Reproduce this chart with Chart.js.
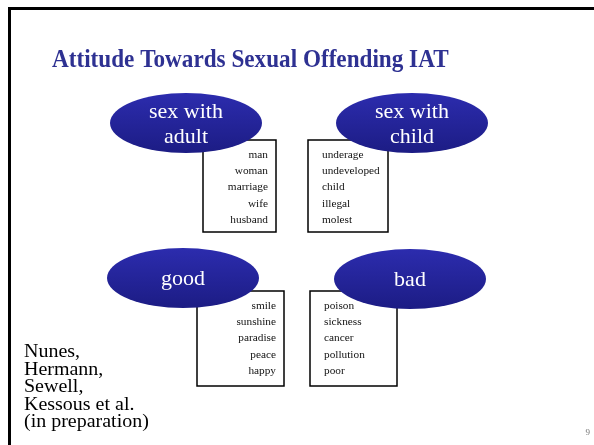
<!DOCTYPE html>
<html>
<head>
<meta charset="utf-8">
<script src="https://cdn.jsdelivr.net/npm/chart.js@4.4.1/dist/chart.umd.min.js"></script>
<style>
    html, body { margin: 0; padding: 0; background: #ffffff; }
</style>
</head>
<body>
<canvas id="iatChart" width="594" height="445"></canvas>
<script>
// Slide content
const titleText = 'Attitude Towards Sexual Offending IAT';
const categories = [['sex with', 'adult'], ['sex with', 'child'], ['good'], ['bad']];
const adultWords = ['man', 'woman', 'marriage', 'wife', 'husband'];
const childWords = ['underage', 'undeveloped', 'child', 'illegal', 'molest'];
const goodWords = ['smile', 'sunshine', 'paradise', 'peace', 'happy'];
const badWords = ['poison', 'sickness', 'cancer', 'pollution', 'poor'];
const citation = ['Nunes,', 'Hermann,', 'Sewell,', 'Kessous et al.', '(in preparation)'];
const pageNumber = '9';

// Layout, in slide units (scales map 0..594 / 0..445)
const nodeCenters = [{ x: 186, y: 123 }, { x: 412, y: 123 }, { x: 183, y: 278 }, { x: 410, y: 279 }];
const wordBoxes = [
    { x0: 203, y0: 140, x1: 276, y1: 232, align: 'right', words: adultWords },
    { x0: 308, y0: 140, x1: 388, y1: 232, align: 'left', words: childWords },
    { x0: 197, y0: 291, x1: 284, y1: 386, align: 'right', words: goodWords },
    { x0: 310, y0: 291, x1: 397, y1: 386, align: 'left', words: badWords }
];

const serif = '"Liberation Serif", "Times New Roman", serif';

// draws text squeezed/stretched horizontally from its left edge
function drawScaledText(ctx, text, x, y, sx) {
    ctx.save();
    ctx.translate(x, y);
    ctx.scale(sx, 1);
    ctx.fillText(text, 0, 0);
    ctx.restore();
}

const slidePlugin = {
    id: 'slide',
    afterDatasetsDraw(chart) {
        const ctx = chart.ctx;
        const xs = chart.scales.x;
        const ys = chart.scales.y;
        const px = v => xs.getPixelForValue(v);
        const py = v => ys.getPixelForValue(v);
        const meta = chart.getDatasetMeta(0);

        ctx.save();

        // slide frame (top + left edge)
        ctx.fillStyle = '#000000';
        ctx.fillRect(px(8), py(7), px(594) - px(8), 3);
        ctx.fillRect(px(8), py(7), 3, py(445) - py(7));

        // title
        ctx.fillStyle = '#2e3192';
        ctx.font = 'bold 25px ' + serif;
        ctx.textAlign = 'left';
        ctx.textBaseline = 'alphabetic';
        drawScaledText(ctx, titleText, px(52), py(67), 0.927);

        // word boxes (behind ellipses)
        ctx.font = '11.3px ' + serif;
        wordBoxes.forEach(b => {
            ctx.fillStyle = '#ffffff';
            ctx.fillRect(px(b.x0), py(b.y0), px(b.x1) - px(b.x0), py(b.y1) - py(b.y0));
            ctx.strokeStyle = '#000000';
            ctx.lineWidth = 1.5;
            ctx.strokeRect(px(b.x0), py(b.y0), px(b.x1) - px(b.x0), py(b.y1) - py(b.y0));
            ctx.fillStyle = '#111111';
            ctx.textAlign = b.align;
            const tx = b.align === 'right' ? px(b.x1 - 8) : px(b.x0 + 14);
            b.words.forEach((w, i) => {
                ctx.fillText(w, tx, py(b.y0 + 17.5 + i * 16.4));
            });
        });

        // category ellipses
        meta.data.forEach((pt, i) => {
            const cx = pt.x, cy = pt.y;
            const rx = 76, ry = 30;
            const grad = ctx.createLinearGradient(0, cy - ry, 0, cy + ry);
            grad.addColorStop(0, '#2c2cae');
            grad.addColorStop(1, '#1c1c84');
            ctx.beginPath();
            ctx.ellipse(cx, cy, rx, ry, 0, 0, Math.PI * 2);
            ctx.fillStyle = grad;
            ctx.fill();

            ctx.fillStyle = '#ffffff';
            ctx.font = '22px ' + serif;
            ctx.textAlign = 'center';
            const lines = categories[i];
            if (lines.length === 2) {
                ctx.fillText(lines[0], cx, cy - 5);
                ctx.fillText(lines[1], cx, cy + 20);
            } else {
                ctx.fillText(lines[0], cx, cy + 7);
            }
        });

        // citation
        ctx.fillStyle = '#000000';
        ctx.font = '18px ' + serif;
        ctx.textAlign = 'left';
        citation.forEach((line, i) => {
            drawScaledText(ctx, line, px(24), py(357 + i * 17.5), 1.11);
        });

        // page number
        ctx.fillStyle = '#777777';
        ctx.font = '9px ' + serif;
        ctx.textAlign = 'right';
        ctx.fillText(pageNumber, px(590), py(435));

        ctx.restore();
    }
};

new Chart(document.getElementById('iatChart'), {
    type: 'scatter',
    data: {
        datasets: [{
            label: 'categories',
            data: nodeCenters,
            pointRadius: 0,
            pointHoverRadius: 0
        }]
    },
    options: {
        responsive: false,
        animation: false,
        layout: { padding: 0 },
        scales: {
            x: { type: 'linear', min: 0, max: 594, display: false },
            y: { type: 'linear', min: 0, max: 445, reverse: true, display: false }
        },
        plugins: {
            legend: { display: false },
            tooltip: { enabled: false }
        }
    },
    plugins: [slidePlugin]
});
</script>
</body>
</html>
